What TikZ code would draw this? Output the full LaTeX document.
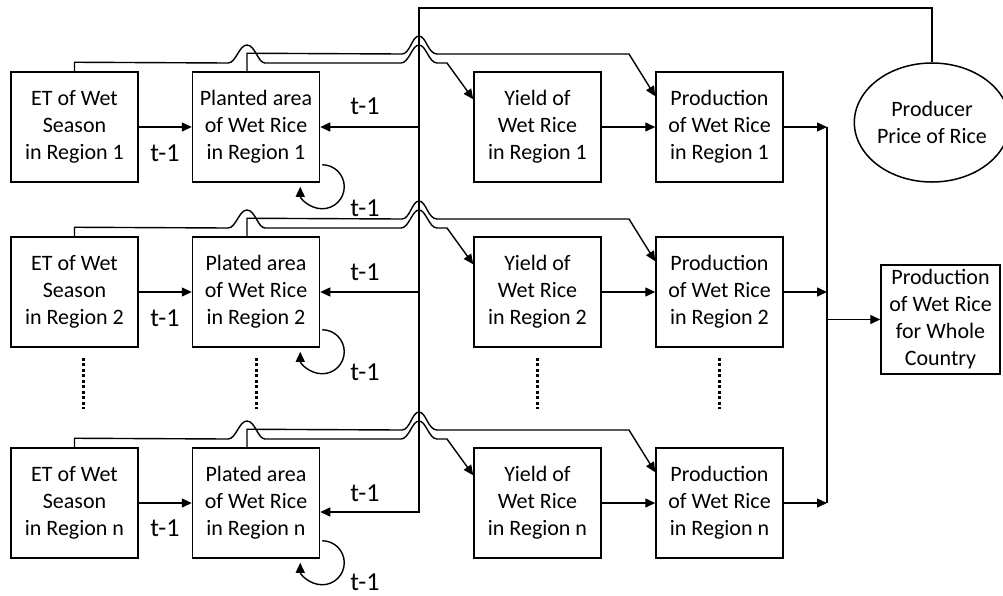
\documentclass[tikz,border=0pt]{standalone}
\usepackage{fontspec}
\setmainfont{Carlito}
\usetikzlibrary{arrows.meta,shapes.geometric,calc}
\begin{document}
\begin{tikzpicture}[x=1pt,y=-1pt,
  box/.style={draw,line width=1.5pt,minimum width=127pt,minimum height=110pt,align=center,
    font=\fontsize{22}{27}\selectfont,inner sep=0pt},
  conn/.style={line width=1.4pt},
  arr/.style={conn,-{Triangle[length=10pt,width=9pt]}},
  lbl/.style={font=\fontsize{26}{30}\selectfont,inner sep=0pt},
  dotline/.style={line width=3pt,dash pattern=on 3pt off 2.5pt}]
\useasboundingbox (0,0) rectangle (1003,595);

% row 1
\node[box] (et1) at (74.5,127) {ET of Wet\\Season\\in Region 1};
\node[box] (pa1) at (256,127) {Planted area\\of Wet Rice\\in Region 1};
\node[box] (y1) at (537.5,127) {Yield of\\Wet Rice\\in Region 1};
\node[box] (pr1) at (719.5,127) {Production\\of Wet Rice\\in Region 1};
% row 2
\node[box] (et2) at (74.5,292) {ET of Wet\\Season\\in Region 2};
\node[box] (pa2) at (256,292) {Plated area\\of Wet Rice\\in Region 2};
\node[box] (y2) at (537.5,292) {Yield of\\Wet Rice\\in Region 2};
\node[box] (pr2) at (719.5,292) {Production\\of Wet Rice\\in Region 2};
% row n
\node[box] (etn) at (74.5,503) {ET of Wet\\Season\\in Region n};
\node[box] (pan) at (256,503) {Plated area\\of Wet Rice\\in Region n};
\node[box] (yn) at (537.5,503) {Yield of\\Wet Rice\\in Region n};
\node[box] (prn) at (719.5,503) {Production\\of Wet Rice\\in Region n};

\node[draw,ellipse,line width=1.5pt,minimum width=139pt,minimum height=119pt,inner sep=0pt,
  align=center,font=\fontsize{22}{27}\selectfont] (price) at (932,122.5) {Producer\\Price of Rice};
\node[box,minimum width=119pt,minimum height=109pt] (whole) at (940.5,319.5)
  {Production\\of Wet Rice\\for Whole\\Country};

\coordinate (bt) at (419,8);
\coordinate (rb) at (827,0);

% bus from price
\draw[arr] (price.north) |- (bt) |- ($(pan.east)+(0,9)$);
\draw[arr] (bt |- pa1.east) -- (pa1.east);
\draw[arr] (bt |- pa2.east) -- (pa2.east);

% right bus
\draw[conn] (rb |- pr1.east) -- (rb |- prn.east);
\draw[arr] (rb |- whole.west) -- (whole.west);

\foreach \r/\t in {1/72,2/237,n/448}{
  \pgfmathsetmacro\py{\t-18}
  \pgfmathsetmacro\ey{\t-9}
  \draw[arr] (et\r) -- (pa\r);
  \draw[arr] (y\r) -- (pr\r);
  \draw[arr] (pr\r.east) -- (rb |- pr\r.east);
  % planted -> production
  \draw[arr] ($(pa\r.north)+(-9,0)$) -- ++(0,-18) -- (402,\py)
     .. controls (410,\py) and (412,\py-18) .. (419,\py-18)
     .. controls (426,\py-18) and (428,\py) .. (437,\py) -- (629,\py)
     -- ($(pr\r.north west)+(0,25)$);
  % ET -> yield
  \draw[arr] (et\r.north) -- ++(0,-9) -- (228,\ey)
     .. controls (236,\ey) and (239,\ey-18) .. (247,\ey-18)
     .. controls (255,\ey-18) and (258,\ey) .. (265,\ey) -- (401,\ey)
     .. controls (409,\ey) and (412,\ey-18) .. (419,\ey-18)
     .. controls (426,\ey-18) and (429,\ey) .. (437,\ey) -- (447,\ey)
     -- ($(y\r.north west)+(0,28)$);
  % self loop
  \draw[arr] ($(pa\r.south east)+(2,-18)$) arc[start angle=90,end angle=-180,radius=22pt];
}

% labels
\node[lbl] (l1a) at (165,153) {t-1};
\node[lbl] (l1b) at (365,106) {t-1};
\node[lbl] (l1c) at (365,208) {t-1};
\node[lbl] (l2a) at (165,318) {t-1};
\node[lbl] (l2b) at (365,272) {t-1};
\node[lbl] (l2c) at (365,372) {t-1};
\node[lbl] (lna) at (165,528) {t-1};
\node[lbl] (lnb) at (365,493) {t-1};
\node[lbl] (lnc) at (365,582) {t-1};

% vertical dots
\draw[dotline] ($(et2.south)+(8.5,10)$) -- ($(etn.north)+(8.5,-38)$);
\draw[dotline] ($(pa2.south)+(0,10)$) -- ($(pan.north)+(0,-38)$);
\draw[dotline] ($(y2.south)+(0,10)$) -- ($(yn.north)+(0,-38)$);
\draw[dotline] ($(pr2.south)+(0,10)$) -- ($(prn.north)+(0,-38)$);
\end{tikzpicture}
\end{document}
